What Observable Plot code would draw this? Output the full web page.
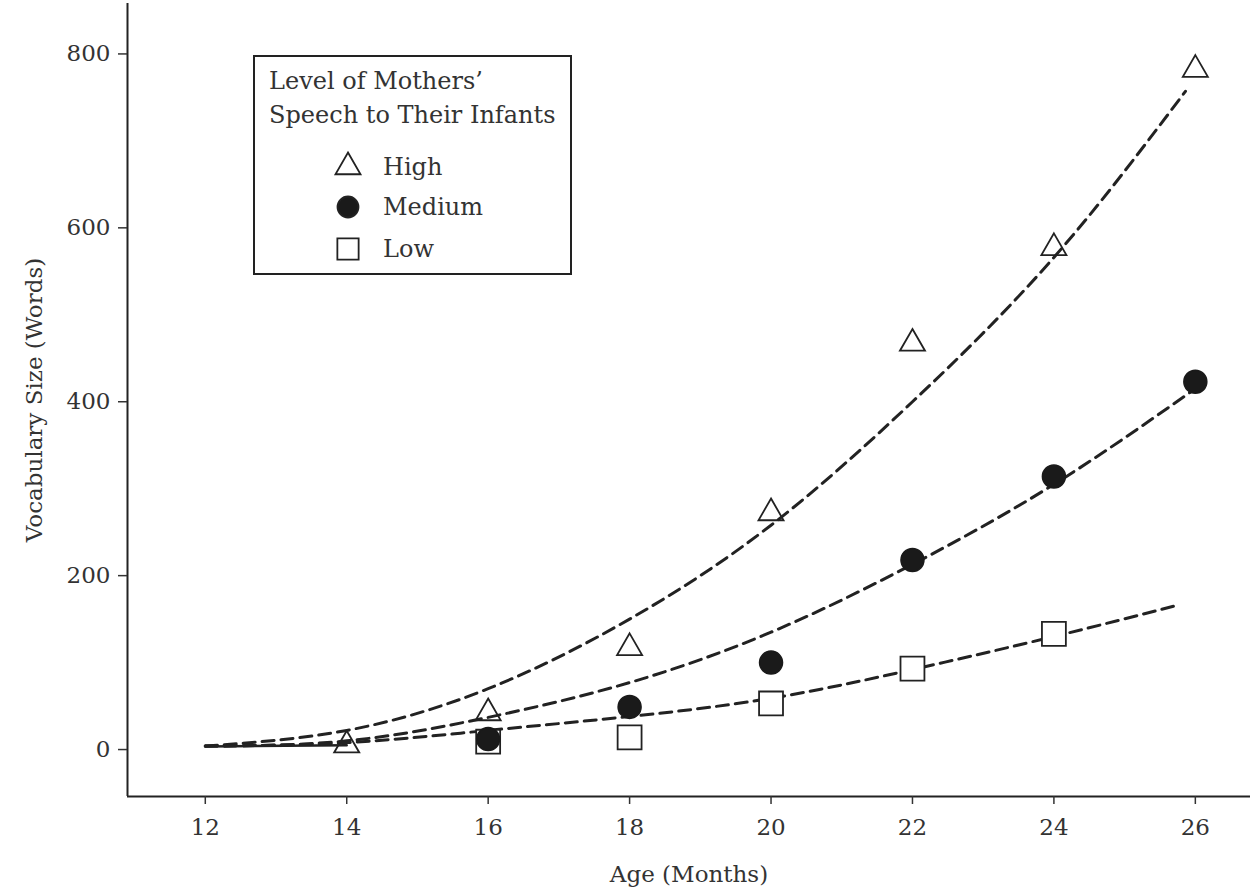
<!DOCTYPE html>
<html><head><meta charset="utf-8">
<script src="https://cdn.jsdelivr.net/npm/d3@7"></script>
<script src="https://cdn.jsdelivr.net/npm/@observablehq/plot@0.6"></script>
<style>
body{margin:0;background:#fff;}
#wrap{position:relative;width:1252px;height:890px;color:#333}
#chart{position:absolute;left:0;top:0}
#legend{position:absolute;left:253px;top:55px}
</style></head><body><div id="wrap"></div>
<script>
// ---- data ----
const xTicks = [12, 14, 16, 18, 20, 22, 24, 26];
const yTicks = [0, 200, 400, 600, 800];
const xDomain = [10.9, 26.78];
const yDomain = [-54, 858];

const levels = ["High", "Medium", "Low"];

// observed points
const highAge = [14, 16, 18, 20, 22, 24, 26];
const highVocab = [5, 42, 117, 272, 467, 577, 782];
const mediumAge = [16, 18, 20, 22, 24, 26];
const mediumVocab = [12, 49, 100, 218, 314, 423];
const lowAge = [16, 18, 20, 22, 24];
const lowVocab = [9, 14, 53, 93, 133];

// fitted dashed curves
const fitHighAge = [12, 14, 16, 18, 20, 22, 24, 25.86];
const fitHighVocab = [4, 22, 70, 150, 258, 400, 566, 757];
const fitMediumAge = [12, 14, 16, 18, 20, 22, 24, 25.93];
const fitMediumVocab = [4, 10, 37, 77, 135, 213, 305, 411];
const fitLowAge = [12, 14, 16, 18, 20, 22, 24, 25.75];
const fitLowVocab = [4, 8, 22, 38, 59, 92, 130, 166];

// short solid segment at the start
const baseAge = [12, 14];
const baseVocab = [3.5, 5];

const zip = (xs, ys) => xs.map((x, i) => ({x, y: ys[i]}));
const high = zip(highAge, highVocab);
const medium = zip(mediumAge, mediumVocab);
const low = zip(lowAge, lowVocab);

const ink = "#222";
const dash = "12,7";
const FONT = '"DejaVu Serif", serif';

const chart = Plot.plot({
  width: 1252, height: 890,
  marginLeft: 127, marginRight: 2, marginTop: 3, marginBottom: 94,
  style: {fontFamily: FONT, fontSize: "23px", color: "#333", background: "white", overflow: "visible"},
  x: {domain: xDomain},
  y: {domain: yDomain},
  marks: [
    Plot.ruleX([xDomain[0]], {stroke: ink, strokeWidth: 2}),
    Plot.ruleY([yDomain[0]], {stroke: ink, strokeWidth: 2}),
    Plot.axisX({ticks: xTicks, tickSize: 8, tickPadding: 14, strokeWidth: 1.5,
      label: "Age (Months)", labelAnchor: "center", labelArrow: "none", labelOffset: 85}),
    Plot.axisY({ticks: yTicks, tickSize: 9, tickPadding: 8, strokeWidth: 1.5,
      label: "Vocabulary Size (Words)", labelAnchor: "center", labelArrow: "none", labelOffset: 102}),
    Plot.line(zip(baseAge, baseVocab), {x: "x", y: "y", stroke: ink, strokeWidth: 2.5}),
    Plot.line(zip(fitHighAge, fitHighVocab), {x: "x", y: "y", curve: "natural", stroke: ink, strokeWidth: 3, strokeDasharray: dash}),
    Plot.line(zip(fitMediumAge, fitMediumVocab), {x: "x", y: "y", curve: "natural", stroke: ink, strokeWidth: 3, strokeDasharray: dash}),
    Plot.line(zip(fitLowAge, fitLowVocab), {x: "x", y: "y", curve: "natural", stroke: ink, strokeWidth: 3, strokeDasharray: dash}),
    Plot.dot(low, {x: "x", y: "y", symbol: "square", r: 13.5, fill: "white", stroke: ink, strokeWidth: 1.8}),
    Plot.dot(medium, {x: "x", y: "y", symbol: "circle", r: 11.5, fill: "#1a1a1a", stroke: "#1a1a1a"}),
    Plot.dot(high, {x: "x", y: "y", symbol: "triangle", r: 9.3, fill: "none", stroke: ink, strokeWidth: 1.8})
  ]
});
chart.setAttribute("id", "chart");
const wrap = document.getElementById("wrap");
wrap.appendChild(chart);

// ---- legend box ----
const symbols = {High: d3.symbolTriangle, Medium: d3.symbolCircle, Low: d3.symbolSquare};
const symSize = {High: Math.PI * 9.3 * 9.3, Medium: Math.PI * 10.5 * 10.5, Low: Math.PI * 12 * 12};
const lg = d3.create("svg").attr("id", "legend").attr("width", 320).attr("height", 222)
  .style("font-family", FONT).style("font-size", "24px");
lg.append("rect").attr("x", 1).attr("y", 1).attr("width", 317).attr("height", 218)
  .attr("fill", "white").attr("stroke", ink).attr("stroke-width", 2);
lg.append("text").attr("x", 16).attr("y", 34).attr("fill", "#333").text("Level of Mothers\u2019");
lg.append("text").attr("x", 16).attr("y", 68).attr("fill", "#333").text("Speech to Their Infants");
const rowY = [112, 152, 194];
levels.forEach((lv, i) => {
  const g = lg.append("g").attr("transform", `translate(95,${rowY[i]})`);
  g.append("path").attr("d", d3.symbol(symbols[lv], symSize[lv])())
    .attr("fill", lv === "Medium" ? "#1a1a1a" : "white").attr("stroke", ink).attr("stroke-width", 1.8);
  lg.append("text").attr("x", 130).attr("y", rowY[i] + 8).attr("fill", "#333").text(lv);
});
wrap.appendChild(lg.node());
</script>
</body></html>
